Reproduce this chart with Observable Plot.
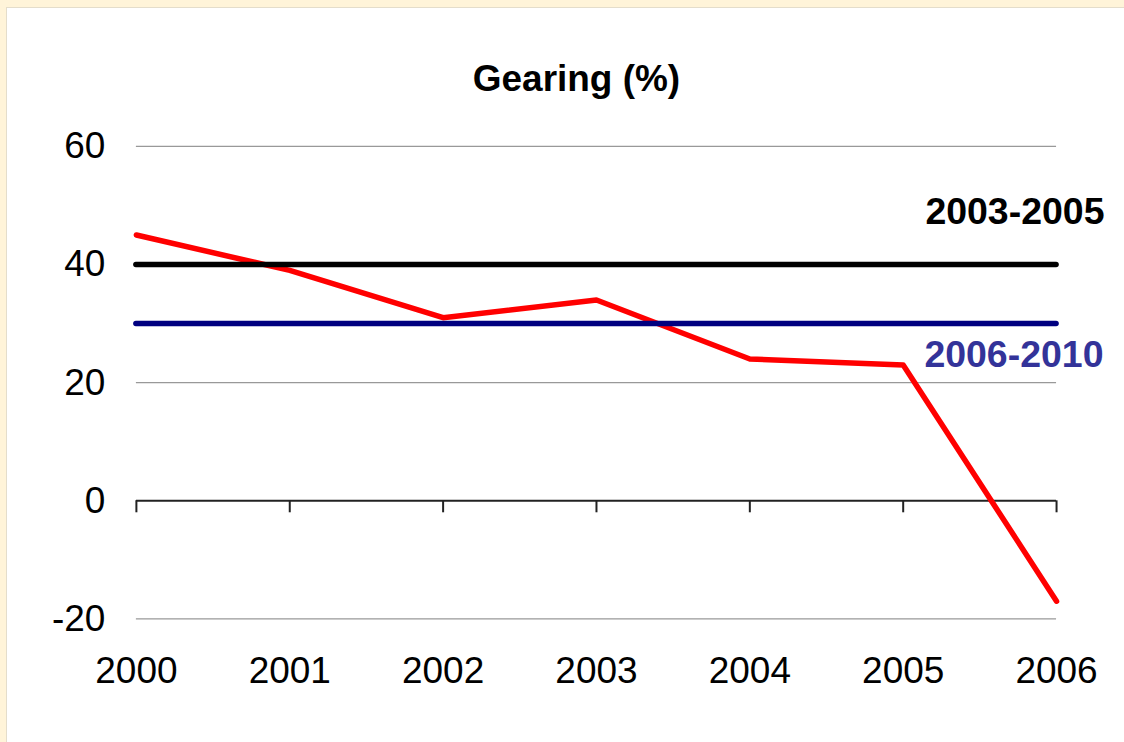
<!DOCTYPE html>
<html>
<head>
<meta charset="utf-8">
<script src="https://cdn.jsdelivr.net/npm/d3@7"></script>
<script src="https://cdn.jsdelivr.net/npm/@observablehq/plot@0.6"></script>
<style>
  html, body { margin: 0; padding: 0; }
  body { width: 1124px; height: 742px; background: #FFF4D9; position: relative; overflow: hidden; }
  #panel { position: absolute; left: 6px; top: 7px; width: 1118px; height: 735px; background: #ffffff;
           border-left: 1px solid #e4ddcb; border-top: 1px solid #e4ddcb; box-sizing: border-box; }
  #chart { position: absolute; left: 1px; top: 1px; }
  #chart svg { display: block; }
</style>
</head>
<body>
<div id="panel"><div id="chart"></div></div>
<script>
const title = "Gearing (%)";
const years = [2000, 2001, 2002, 2003, 2004, 2005, 2006];
const gearing = [45, 39, 31, 34, 24, 23, -17];
const yTicks = [60, 40, 20, 0, -20];
const yTickLabels = ["60", "40", "20", "0", "-20"];
const gridValues = [60, 40, 20, -20];
const refLabels = ["2003-2005", "2006-2010"];
const refValues = [40, 30];
const refLineColors = ["#000000", "#000080"];
const refTextColors = ["#000000", "#333399"];

const series = years.map((y, i) => ({year: y, value: gearing[i]}));
const font = "'Liberation Sans', Arial, sans-serif";

const chart = Plot.plot({
  width: 1117,
  height: 734,
  marginLeft: 128,
  marginRight: 68,
  marginTop: 137,
  marginBottom: 124,
  style: {fontFamily: font, fontSize: "36px", color: "#000", background: "transparent"},
  x: {type: "linear", domain: [2000, 2006]},
  y: {domain: [-20, 60]},
  marks: [
    Plot.ruleY(gridValues, {stroke: "#999999", strokeWidth: 1.3}),
    Plot.axisY({ticks: yTicks, tickFormat: d => yTickLabels[yTicks.indexOf(d)], tickSize: 0, tickPadding: 31, fontSize: 37, label: null}),
    Plot.axisX({ticks: years, tickFormat: d => String(d), tickSize: 0, tickPadding: 38, fontSize: 37, label: null}),
    Plot.ruleY([0], {stroke: "#222", strokeWidth: 2}),
    Plot.ruleX(years, {x: d => d, y1: 0, y2: 0, insetBottom: -12, stroke: "#222", strokeWidth: 2}),
    Plot.line(series, {x: "year", y: "value", stroke: "#FF0000", strokeWidth: 5.5, strokeLinecap: "round", strokeLinejoin: "round"}),
    Plot.ruleY(refValues, {y: d => d, stroke: (d, i) => refLineColors[i], strokeWidth: 5.5, strokeLinecap: "round"}),
    Plot.text([refLabels[0]], {x: 2006, y: refValues[0], dx: 48, dy: -53, textAnchor: "end", fontWeight: "bold", fontSize: 37.5, fill: refTextColors[0]}),
    Plot.text([refLabels[1]], {x: 2006, y: refValues[1], dx: 47, dy: 31, textAnchor: "end", fontWeight: "bold", fontSize: 37.5, fill: refTextColors[1]}),
    Plot.text([title], {frameAnchor: "top", lineAnchor: "middle", dx: -20, dy: -67, fontWeight: "bold", fontSize: 37, fill: "#000"})
  ]
});
document.getElementById("chart").appendChild(chart);
</script>
</body>
</html>
